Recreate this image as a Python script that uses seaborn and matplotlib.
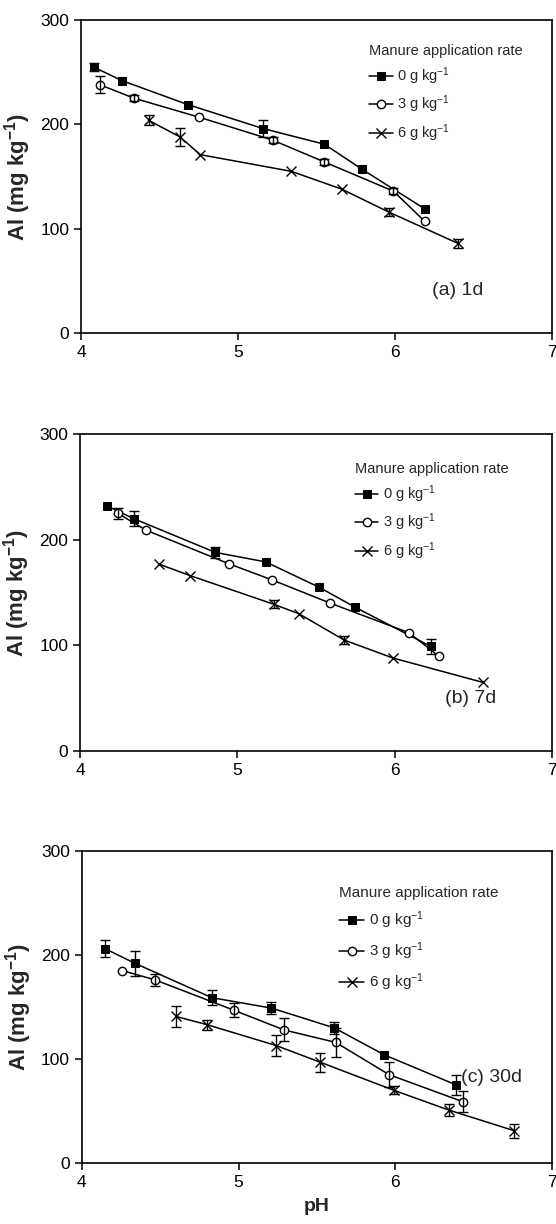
import matplotlib
matplotlib.use("Agg")
import matplotlib.pyplot as plt
import seaborn as sns

# ---- data: pH, Al (mg/kg), error (+/-) ----
# (a) 1 day
ph_1d_0 = [4.08, 4.26, 4.68, 5.16, 5.55, 5.79, 6.19]
al_1d_0 = [255, 242, 219, 196, 181, 157, 119]
err_1d_0 = [4, 0, 0, 8, 0, 0, 0]
ph_1d_3 = [4.12, 4.34, 4.75, 5.22, 5.55, 5.99, 6.19]
al_1d_3 = [238, 225, 207, 185, 164, 136, 107]
err_1d_3 = [8, 3, 0, 3, 3, 3, 0]
ph_1d_6 = [4.43, 4.63, 4.76, 5.34, 5.66, 5.96, 6.40]
al_1d_6 = [204, 188, 171, 155, 138, 116, 86]
err_1d_6 = [5, 9, 0, 0, 0, 4, 4]

# (b) 7 days
ph_7d_0 = [4.17, 4.34, 4.86, 5.18, 5.52, 5.75, 6.23]
al_7d_0 = [232, 220, 188, 179, 155, 136, 99]
err_7d_0 = [0, 7, 5, 0, 0, 0, 7]
ph_7d_3 = [4.24, 4.42, 4.95, 5.22, 5.59, 6.09, 6.28]
al_7d_3 = [225, 209, 177, 162, 140, 112, 90]
err_7d_3 = [5, 0, 0, 0, 0, 0, 0]
ph_7d_6 = [4.50, 4.70, 5.23, 5.39, 5.68, 5.99, 6.56]
al_7d_6 = [177, 166, 139, 130, 105, 88, 65]
err_7d_6 = [0, 0, 4, 0, 4, 0, 0]

# (c) 30 days
ph_30d_0 = [4.15, 4.34, 4.83, 5.21, 5.61, 5.93, 6.39]
al_30d_0 = [206, 192, 159, 149, 130, 104, 75]
err_30d_0 = [8, 12, 7, 6, 6, 0, 10]
ph_30d_3 = [4.26, 4.47, 4.97, 5.29, 5.62, 5.96, 6.43]
al_30d_3 = [185, 176, 147, 128, 116, 85, 59]
err_30d_3 = [0, 6, 7, 11, 14, 12, 10]
ph_30d_6 = [4.60, 4.80, 5.24, 5.52, 5.99, 6.34, 6.76]
al_30d_6 = [141, 133, 113, 97, 70, 51, 31]
err_30d_6 = [10, 5, 10, 9, 4, 6, 7]

rates = ["0 g kg$^{-1}$", "3 g kg$^{-1}$", "6 g kg$^{-1}$"]
panel_tags = ["(a) 1d", "(b) 7d", "(c) 30d"]
x_ticks = [4, 5, 6, 7]
y_ticks = [0, 100, 200, 300]

sns.set_style("ticks")
plt.rcParams["font.family"] = ["Liberation Sans", "DejaVu Sans"]
plt.rcParams["mathtext.default"] = "regular"

fig = plt.figure(figsize=(5.56, 12.24), dpi=100)

# axes boxes in figure fractions (left, bottom, width, height)
boxes = [
    [0.1457, 0.7279, 0.8471, 0.2557],
    [0.1439, 0.3864, 0.8489, 0.2590],
    [0.1470, 0.0498, 0.8460, 0.2549],
]
panels = [
    [(ph_1d_0, al_1d_0, err_1d_0), (ph_1d_3, al_1d_3, err_1d_3), (ph_1d_6, al_1d_6, err_1d_6)],
    [(ph_7d_0, al_7d_0, err_7d_0), (ph_7d_3, al_7d_3, err_7d_3), (ph_7d_6, al_7d_6, err_7d_6)],
    [(ph_30d_0, al_30d_0, err_30d_0), (ph_30d_3, al_30d_3, err_30d_3), (ph_30d_6, al_30d_6, err_30d_6)],
]
leg_anchor = [(0.60, 0.941), (0.57, 0.929), (0.535, 0.907)]
leg_size = [10.5, 10.5, 11]
leg_space = [0.47, 0.47, 0.62]
tag_pos = [(6.40, 41, "center"), (6.48, 50, "center"), (6.42, 82, "left")]

styles = [
    dict(marker="s", markersize=5.5, markerfacecolor="black", markeredgecolor="black"),
    dict(marker="o", markersize=6, markerfacecolor="white", markeredgecolor="black", markeredgewidth=1.0),
    dict(marker="x", markersize=7, markeredgecolor="black", markeredgewidth=1.0),
]

for i, box in enumerate(boxes):
    ax = fig.add_axes(box)
    for j, (ph, al, err) in enumerate(panels[i]):
        sns.lineplot(x=ph, y=al, ax=ax, color="black", linewidth=1.1,
                     estimator=None, sort=False, label=rates[j], **styles[j])
        ex = [p for p, e in zip(ph, err) if e > 0]
        ey = [a for a, e in zip(al, err) if e > 0]
        ee = [e for e in err if e > 0]
        ax.errorbar(ex, ey, yerr=ee, fmt="none", ecolor="black",
                    elinewidth=1.0, capsize=3.5, capthick=1.0)
    ax.set_xlim(4, 7)
    ax.set_ylim(0, 300)
    ax.set_xticks(x_ticks)
    ax.set_yticks(y_ticks)
    ax.tick_params(direction="out", length=5, width=1.1, labelsize=12.5, colors="black")
    for s in ax.spines.values():
        s.set_linewidth(1.2)
        s.set_color("black")
    ax.set_ylabel("Al (mg kg$^{-1}$)", fontsize=16, fontweight="bold", labelpad=5)
    ax.set_xlabel("")
    leg = ax.legend(title="Manure application rate", loc="upper left",
                    bbox_to_anchor=leg_anchor[i], frameon=False,
                    fontsize=leg_size[i], title_fontsize=leg_size[i], handlelength=1.6,
                    handletextpad=0.3, labelspacing=leg_space[i], alignment="left",
                    borderaxespad=0)
    tx, ty, ha = tag_pos[i]
    ax.text(tx, ty, panel_tags[i], fontsize=14, ha=ha, va="center")

ax.set_xlabel("pH", fontsize=14, fontweight="bold", labelpad=6)

fig.savefig("out.png", dpi=100, facecolor="white")
